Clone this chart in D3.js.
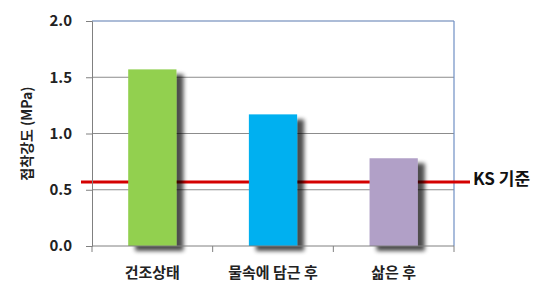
<!DOCTYPE html>
<html>
<head>
<meta charset="utf-8">
<script src="https://cdn.jsdelivr.net/npm/d3@7"></script>
<style>
  body { margin: 0; background: #fff; }
  text { font-family: "Noto Sans CJK KR", "Noto Sans", sans-serif; }
</style>
</head>
<body>
<div class="container"></div>
<script>
// chart data
const categories = ["건조상태", "물속에 담근 후", "삶은 후"];
const values = [1.57, 1.17, 0.78];
const barColors = ["#92D050", "#00B0F0", "#B1A0C7"];
const yTicks = [0.0, 0.5, 1.0, 1.5, 2.0];
const ksValue = 0.57;
const ksLabel = "KS 기준";
const yTitle = "접착강도 (MPa)";

const width = 550;
const height = 297;
const margin = { top: 21, bottom: 51, left: 92, right: 96 };

const svg = d3.select(".container")
  .append("svg")
  .attr("width", width)
  .attr("height", height);

// shadow filter for the bars
const defs = svg.append("defs");
const filter = defs.append("filter")
  .attr("id", "shadow")
  .attr("x", "-20%").attr("y", "-20%")
  .attr("width", "160%").attr("height", "160%");
filter.append("feGaussianBlur").attr("in", "SourceAlpha").attr("stdDeviation", 2.2).attr("result", "blur");
filter.append("feOffset").attr("in", "blur").attr("dx", 7).attr("dy", 5).attr("result", "off");
filter.append("feComponentTransfer").attr("in", "off").attr("result", "soft")
  .append("feFuncA").attr("type", "linear").attr("slope", 0.7);
const merge = filter.append("feMerge");
merge.append("feMergeNode").attr("in", "soft");
merge.append("feMergeNode").attr("in", "SourceGraphic");

const xScale = d3.scaleBand()
  .domain(categories)
  .range([margin.left, width - margin.right])
  .paddingInner(0.6)
  .paddingOuter(0.3);

const yScale = d3.scaleLinear()
  .domain([0, 2])
  .range([height - margin.bottom, margin.top]);

const x0 = margin.left, x1 = width - margin.right;

// gridlines
svg.append("g")
  .selectAll("line")
  .data(yTicks.filter(d => d > 0 && d < 2))
  .join("line")
  .attr("x1", x0).attr("x2", x1)
  .attr("y1", d => yScale(d)).attr("y2", d => yScale(d))
  .attr("stroke", "#8c8c8c")
  .attr("stroke-width", 1);

// plot border (top and right)
svg.append("line")
  .attr("x1", x0).attr("x2", x1)
  .attr("y1", yScale(2)).attr("y2", yScale(2))
  .attr("stroke", "#5a7bb0").attr("stroke-width", 1.2);
svg.append("line")
  .attr("x1", x1).attr("x2", x1)
  .attr("y1", yScale(2)).attr("y2", yScale(0))
  .attr("stroke", "#6f8fc4").attr("stroke-width", 1.2);

// KS line (behind the bars)
svg.append("line")
  .attr("x1", 81).attr("x2", 470)
  .attr("y1", yScale(ksValue)).attr("y2", yScale(ksValue))
  .attr("stroke", "#D40000")
  .attr("stroke-width", 3);

svg.append("text")
  .attr("x", 473)
  .attr("y", yScale(ksValue) - 3)
  .attr("dy", "0.35em")
  .attr("font-size", "17px")
  .attr("font-weight", "bold")
  .attr("fill", "#111")
  .text(ksLabel);

// bars
svg.append("g")
  .selectAll("rect")
  .data(values)
  .join("rect")
  .attr("x", (d, i) => xScale(categories[i]))
  .attr("y", d => yScale(d))
  .attr("width", xScale.bandwidth())
  .attr("height", d => yScale(0) - yScale(d))
  .attr("fill", (d, i) => barColors[i])
  .attr("filter", "url(#shadow)");

// y axis
const yAxis = svg.append("g")
  .attr("transform", `translate(${x0},0)`)
  .call(d3.axisLeft(yScale).tickValues(yTicks).tickFormat(d3.format(".1f")).tickSize(6).tickPadding(14));
yAxis.select(".domain").attr("stroke", "#808080");
yAxis.selectAll(".tick line").attr("stroke", "#808080");
yAxis.selectAll("text")
  .attr("font-size", "15px")
  .attr("font-weight", "bold")
  .attr("fill", "#222");

// x axis
const xTickPos = [x0, ...categories.map((c, i) => x0 + (x1 - x0) * (i + 1) / categories.length)];
const xAxis = svg.append("g")
  .attr("transform", `translate(0,${yScale(0)})`);
xAxis.append("line")
  .attr("x1", x0).attr("x2", x1)
  .attr("stroke", "#808080");
xAxis.selectAll(".tk")
  .data(xTickPos)
  .join("line")
  .attr("class", "tk")
  .attr("x1", d => d).attr("x2", d => d)
  .attr("y1", 0).attr("y2", 6)
  .attr("stroke", "#808080");
xAxis.selectAll(".lbl")
  .data(categories)
  .join("text")
  .attr("class", "lbl")
  .attr("x", d => xScale(d) + xScale.bandwidth() / 2)
  .attr("y", 27)
  .attr("dy", "0.35em")
  .attr("text-anchor", "middle")
  .attr("font-size", "15px")
  .attr("font-weight", "bold")
  .attr("fill", "#222")
  .text(d => d);

// y title
svg.append("text")
  .attr("transform", `translate(27,${(yScale(0) + yScale(2)) / 2}) rotate(-90)`)
  .attr("text-anchor", "middle")
  .attr("dy", "0.35em")
  .attr("font-size", "14px")
  .attr("font-weight", "bold")
  .attr("fill", "#222")
  .text(yTitle);
</script>
</body>
</html>
